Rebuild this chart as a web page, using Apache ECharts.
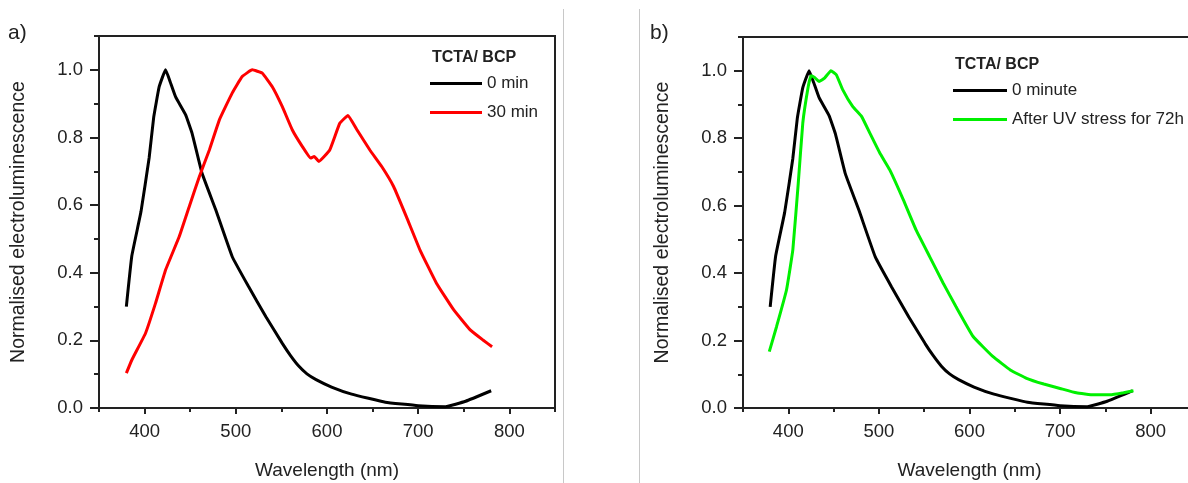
<!DOCTYPE html>
<html>
<head>
<meta charset="utf-8">
<script src="https://cdn.jsdelivr.net/npm/echarts@6/dist/echarts.min.js"></script>
<style>
  html, body { margin: 0; padding: 0; background: #fff; }
  #chart { width: 1188px; height: 483px; }
</style>
</head>
<body>
<div id="chart"></div>
<script>
// wavelength (nm) / normalised EL
const wl0min = [380, 386, 396, 405, 410, 416, 423, 428, 434, 445, 452, 463, 478, 496, 514, 533, 551, 560, 569, 578, 588, 605, 627, 664, 700, 730, 752, 780]
const el0min = [0.30, 0.45, 0.58, 0.74, 0.86, 0.95, 1.00, 0.965, 0.92, 0.867, 0.813, 0.694, 0.586, 0.448, 0.359, 0.27, 0.191, 0.155, 0.124, 0.101, 0.084, 0.062, 0.041, 0.017, 0.007, 0.004, 0.02, 0.051]

const wl30min = [380, 386, 401, 412, 423, 438, 449, 460, 471, 482, 496, 507, 518, 529, 540, 551, 562, 573, 582, 586, 591, 603, 614, 623, 633, 647, 660, 673, 687, 702, 720, 739, 757, 771, 781]
const el30min = [0.103, 0.142, 0.221, 0.31, 0.408, 0.507, 0.596, 0.684, 0.763, 0.852, 0.931, 0.98, 1.0, 0.99, 0.95, 0.891, 0.822, 0.773, 0.739, 0.744, 0.729, 0.763, 0.842, 0.865, 0.822, 0.763, 0.714, 0.655, 0.566, 0.467, 0.369, 0.29, 0.231, 0.201, 0.181]

const wlUv = [379, 387, 398, 405, 411, 416, 422, 425, 429, 434, 440, 447, 453, 460, 471, 481, 490, 501, 512, 527, 541, 556, 571, 585, 604, 626, 645, 663, 682, 700, 718, 737, 755, 770, 781]
const elUv = [0.167, 0.241, 0.35, 0.469, 0.667, 0.845, 0.953, 0.985, 0.98, 0.968, 0.978, 1.0, 0.988, 0.944, 0.894, 0.864, 0.815, 0.756, 0.706, 0.617, 0.528, 0.449, 0.37, 0.301, 0.212, 0.152, 0.113, 0.088, 0.071, 0.058, 0.045, 0.039, 0.039, 0.045, 0.051]

const xTicks = [400, 500, 600, 700, 800]
const yTicks = [0, 0.2, 0.4, 0.6, 0.8, 1.0]

const FONT = '"Liberation Sans", Arial, sans-serif'
const INK = '#222'

function pairs(xs, ys) {
  return xs.map((x, i) => [x, ys[i]])
}

function mainX(gridIndex) {
  return {
    gridIndex,
    type: 'value',
    position: 'bottom',
    min: 350,
    max: 850,
    name: 'Wavelength (nm)',
    nameLocation: 'middle',
    nameGap: 53,
    nameTextStyle: { fontFamily: FONT, fontSize: 19, color: INK },
    axisLine: { lineStyle: { color: INK, width: 2 } },
    axisTick: { customValues: xTicks, length: 6, lineStyle: { color: INK, width: 2 } },
    axisLabel: { customValues: xTicks, margin: 14, fontFamily: FONT, fontSize: 18.5, color: INK },
    splitLine: { show: false }
  }
}

function minorX(gridIndex) {
  return {
    gridIndex,
    type: 'value',
    position: 'bottom',
    min: 350,
    max: 850,
    interval: 50,
    axisLine: { show: false },
    axisTick: { length: 4, lineStyle: { color: INK, width: 2 } },
    axisLabel: { show: false },
    splitLine: { show: false }
  }
}

function mainY(gridIndex) {
  return {
    gridIndex,
    type: 'value',
    position: 'left',
    min: 0,
    max: 1.1,
    name: 'Normalised electroluminescence',
    nameLocation: 'middle',
    nameGap: 70,
    nameTextStyle: { fontFamily: FONT, fontSize: 19.5, color: INK },
    axisLine: { show: true, lineStyle: { color: INK, width: 2 } },
    axisTick: { show: true, customValues: yTicks, length: 9, lineStyle: { color: INK, width: 2 } },
    axisLabel: {
      customValues: yTicks, margin: 16, fontFamily: FONT, fontSize: 18.5, color: INK,
      formatter: v => v.toFixed(1)
    },
    splitLine: { show: false }
  }
}

function minorY(gridIndex) {
  return {
    gridIndex,
    type: 'value',
    position: 'left',
    min: 0,
    max: 1.1,
    interval: 0.1,
    axisLine: { show: false },
    axisTick: { show: true, length: 5, lineStyle: { color: INK, width: 2 } },
    axisLabel: { show: false },
    splitLine: { show: false }
  }
}

function spectrum(name, xs, ys, color, axisIndex) {
  return {
    name,
    type: 'line',
    xAxisIndex: axisIndex,
    yAxisIndex: axisIndex,
    data: pairs(xs, ys),
    symbol: 'none',
    smooth: 0.1,
    color,
    lineStyle: { color, width: 3 }
  }
}

const chart = echarts.init(document.getElementById('chart'))

chart.setOption({
  animation: false,
  backgroundColor: '#fff',
  title: [
    { text: 'a)', left: 8, top: 23, padding: 0, textStyle: { fontFamily: FONT, fontSize: 21, fontWeight: 'normal', color: INK } },
    { text: 'b)', left: 650, top: 23, padding: 0, textStyle: { fontFamily: FONT, fontSize: 21, fontWeight: 'normal', color: INK } },
    { text: 'TCTA/ BCP', left: 432, top: 50, padding: 0, textStyle: { fontFamily: FONT, fontSize: 16, fontWeight: 'bold', color: INK } },
    { text: 'TCTA/ BCP', left: 955, top: 57, padding: 0, textStyle: { fontFamily: FONT, fontSize: 16, fontWeight: 'bold', color: INK } }
  ],
  legend: [
    {
      data: ['0 min', '30 min'],
      orient: 'vertical',
      left: 430,
      top: 75,
      padding: 0,
      itemGap: 12,
      itemWidth: 52,
      itemHeight: 3,
      icon: 'rect',
      selectedMode: false,
      textStyle: { fontFamily: FONT, fontSize: 17, color: INK }
    },
    {
      data: ['0 minute', 'After UV stress for 72h'],
      orient: 'vertical',
      left: 953,
      top: 82,
      padding: 0,
      itemGap: 12,
      itemWidth: 54,
      itemHeight: 3,
      icon: 'rect',
      selectedMode: false,
      textStyle: { fontFamily: FONT, fontSize: 17, color: INK }
    }
  ],
  grid: [
    { left: 99, top: 36, width: 456, height: 372, outerBoundsMode: 'none', show: true, borderColor: INK, borderWidth: 2 },
    { left: 743, top: 37, width: 453, height: 371, outerBoundsMode: 'none', show: true, borderColor: INK, borderWidth: 2 }
  ],
  xAxis: [mainX(0), mainX(1), minorX(0), minorX(1)],
  yAxis: [mainY(0), mainY(1), minorY(0), minorY(1)],
  graphic: [
    { type: 'line', shape: { x1: 563.5, y1: 9, x2: 563.5, y2: 483 }, style: { stroke: '#c8c8c8', lineWidth: 1 } },
    { type: 'line', shape: { x1: 639.5, y1: 9, x2: 639.5, y2: 483 }, style: { stroke: '#c8c8c8', lineWidth: 1 } }
  ],
  series: [
    spectrum('0 min', wl0min, el0min, '#000000', 0),
    spectrum('30 min', wl30min, el30min, '#ff0000', 0),
    spectrum('0 minute', wl0min, el0min, '#000000', 1),
    spectrum('After UV stress for 72h', wlUv, elUv, '#00f000', 1)
  ]
})

window.addEventListener('resize', () => chart.resize())
</script>
</body>
</html>
